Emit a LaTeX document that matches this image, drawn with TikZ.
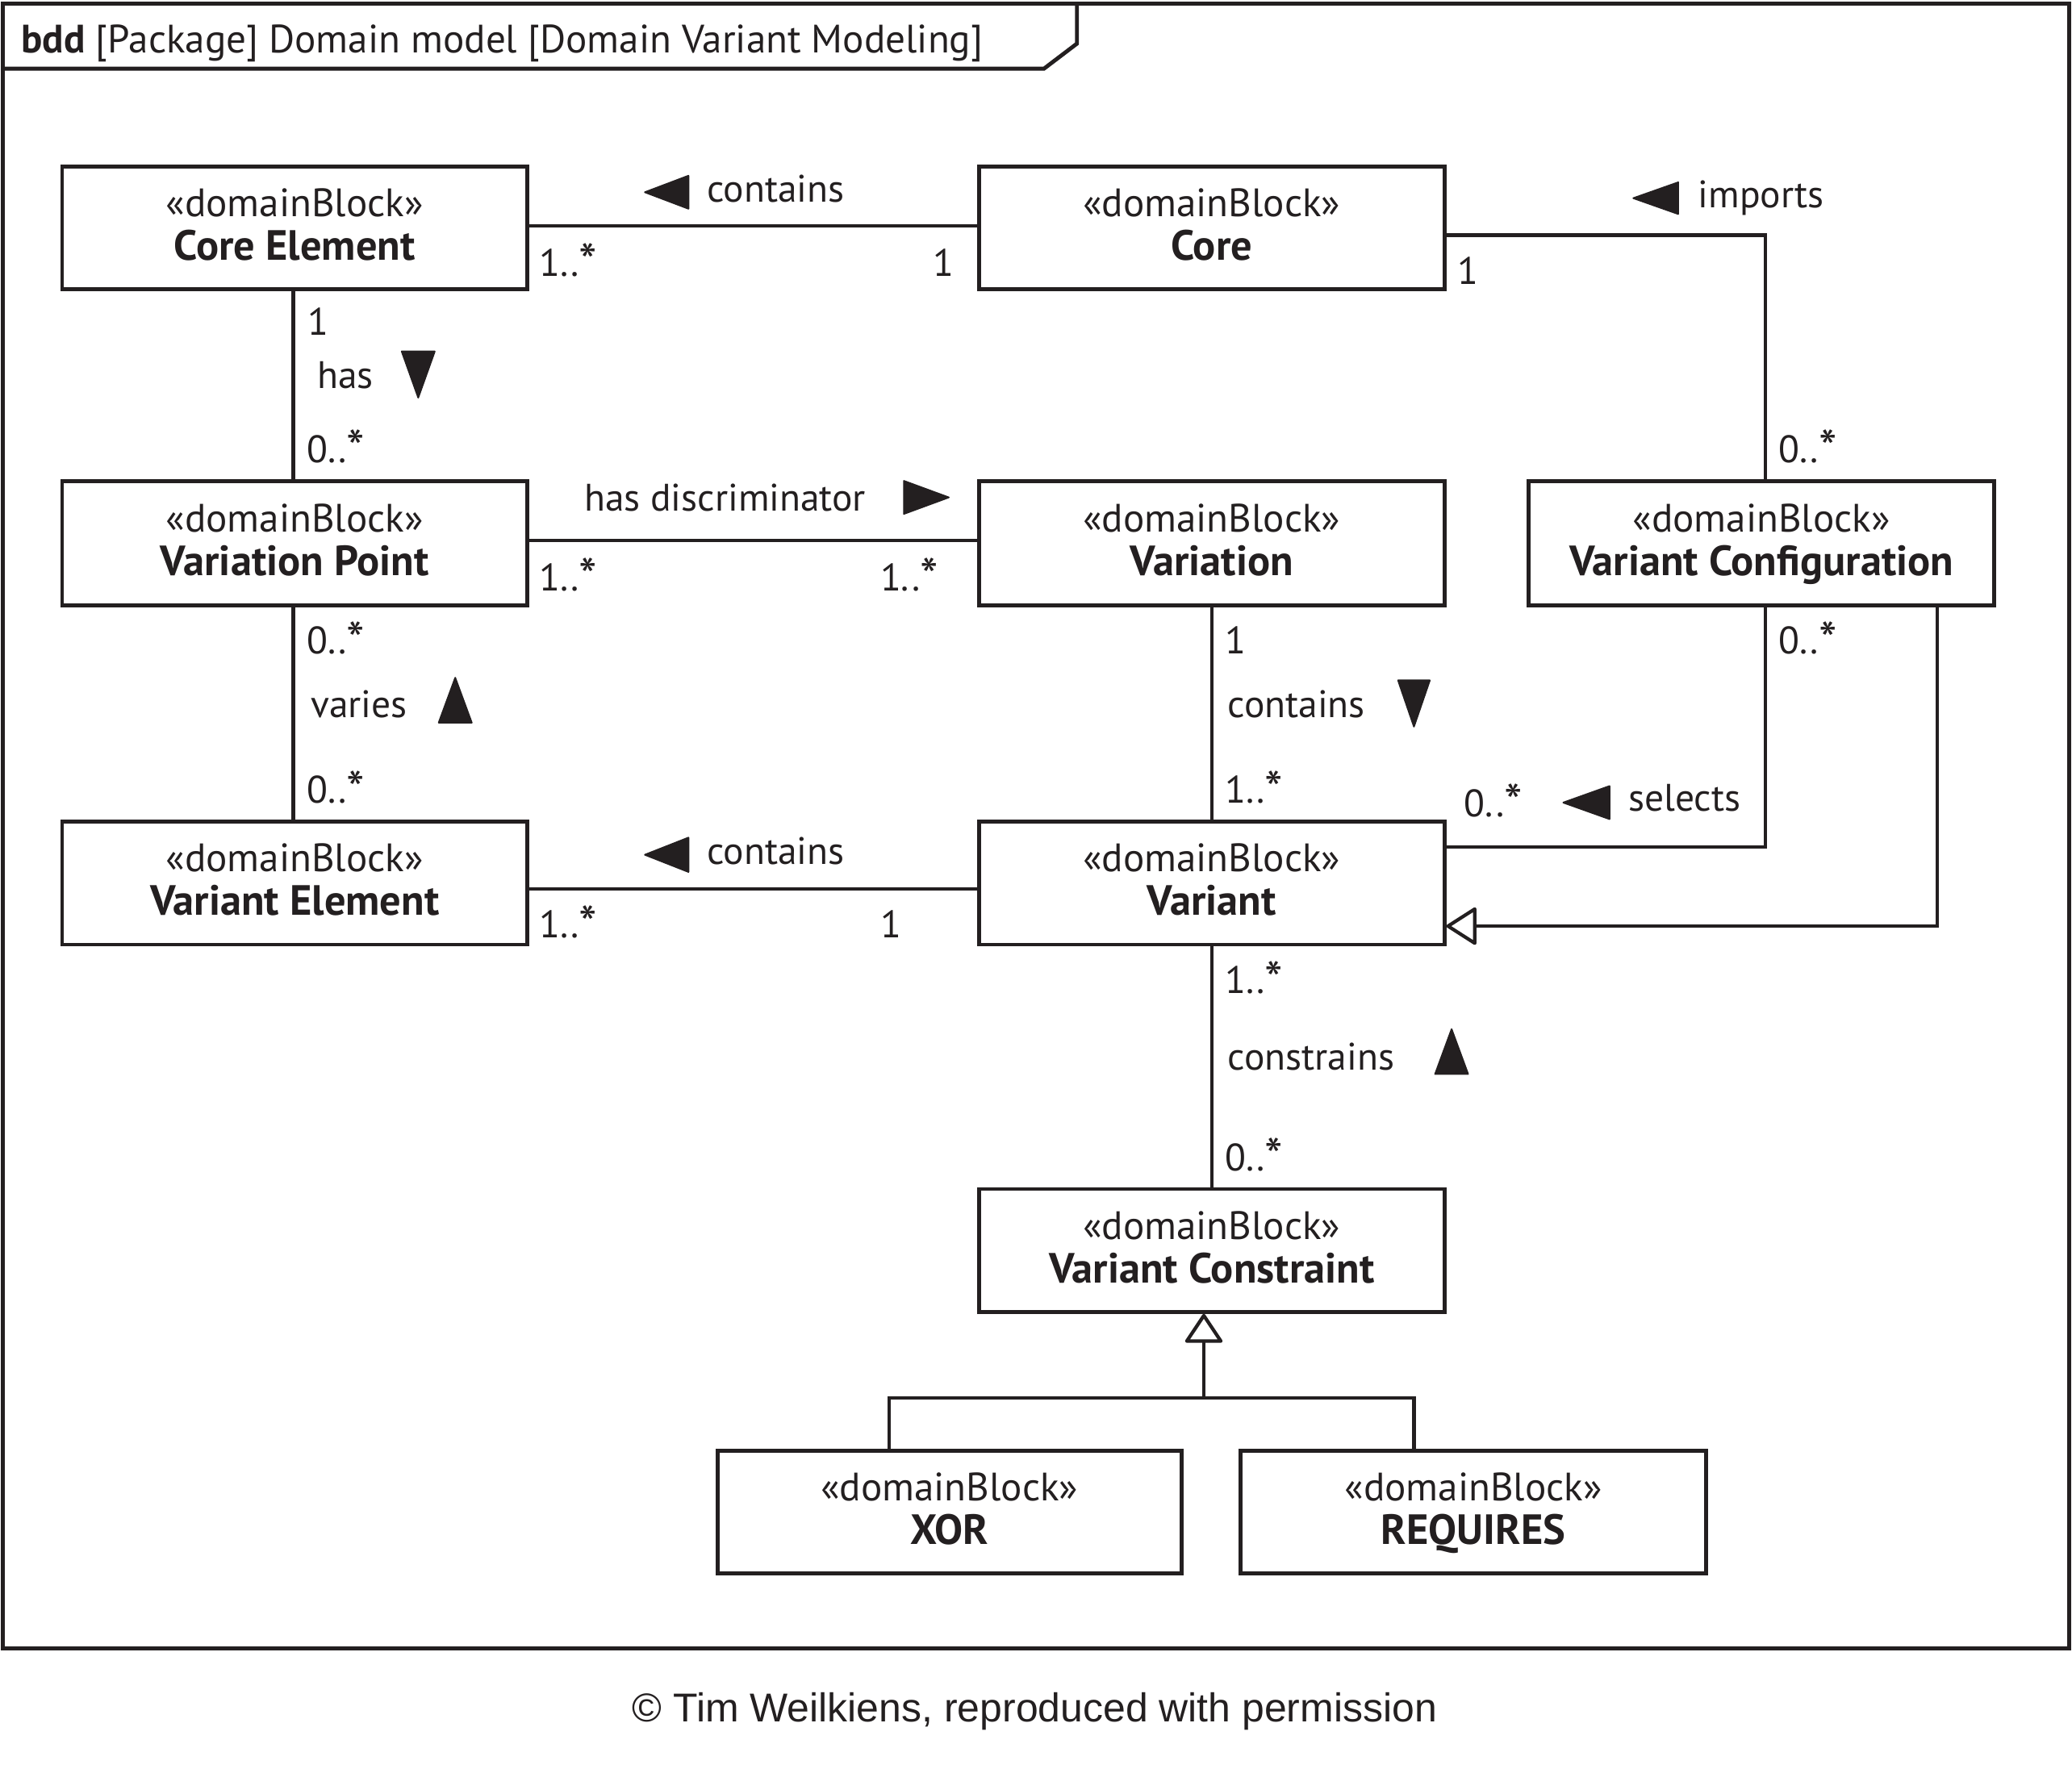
\documentclass[tikz,border=0pt]{standalone}
\usepackage{fontspec}
\usepackage{graphicx}
\setmainfont{PT Sans}
\newfontfamily\arialf{Liberation Sans}
\usetikzlibrary{calc,arrows.meta}
\definecolor{ink}{RGB}{35,31,32}
\newcommand{\mast}{\raisebox{-0.12em}{\scalebox{1.35}{*}}}
\newcommand{\bname}[1]{{\fontsize{32}{33}\selectfont\textbf{#1}}}
\begin{document}
\begin{tikzpicture}[x=1pt,y=-1pt,
  every node/.style={text=ink},
  block/.style={draw=ink, line width=3pt, rectangle, minimum width=352pt, minimum height=93pt,
    inner sep=0pt, align=center, font=\fontsize{30}{33}\selectfont, text height=55pt, text depth=6pt},
  lbl/.style={font=\fontsize{29}{33}\selectfont, inner sep=0pt, anchor=base west},
  conn/.style={draw=ink, line width=2.6pt},
  dirtri/.style={fill=ink, draw=ink, line width=1.2pt, line join=round},
  gen/.style={-{Triangle[open,fill=white,length=#1,width=30pt,line width=2.6pt,round]}}
]
\useasboundingbox (0,0) rectangle (1568,1339);
% frame
\draw[draw=ink, line width=3pt] (2,3) rectangle (1566,1248);
\draw[draw=ink, line width=3pt] (2,52) -- (790,52) -- (815,33) -- (815,3);
\node[anchor=base west, inner sep=0pt, font=\fontsize{30}{33}\selectfont] (title) at (16,40)
  {\textbf{bdd} [Package] Domain model [Domain Variant Modeling]};

% blocks
\node[block] (ce)   at (223,172.5) {«domainBlock»\\\bname{Core Element}};
\node[block] (core) at (917,172.5) {«domainBlock»\\\bname{Core}};
\node[block, minimum height=94pt] (vp)   at (223,411) {«domainBlock»\\\bname{Variation Point}};
\node[block, minimum height=94pt] (var)  at (917,411) {«domainBlock»\\\bname{Variation}};
\node[block, minimum height=94pt] (vc)   at (1333,411) {«domainBlock»\\\bname{Variant Configuration}};
\node[block] (ve)   at (223,668.5) {«domainBlock»\\\bname{Variant Element}};
\node[block] (vnt)  at (917,668.5) {«domainBlock»\\\bname{Variant}};
\node[block] (vcon) at (917,946.5) {«domainBlock»\\\bname{Variant Constraint}};
\node[block, minimum width=351pt] (xor)  at (718.5,1144.5) {«domainBlock»\\\bname{XOR}};
\node[block] (req)  at (1115,1144.5) {«domainBlock»\\\bname{REQUIRES}};

% connectors
\draw[conn] ([yshift=1.5pt]ce.east) -- ([yshift=1.5pt]core.west);
\draw[conn] ([yshift=-5.5pt]core.east) -| ([xshift=3pt]vc.north);
\draw[conn] ([xshift=-1pt]ce.south) -- ([xshift=-1pt]vp.north);
\draw[conn] ([yshift=2pt]vp.east) -- ([yshift=2pt]var.west);
\draw[conn] ([xshift=-1pt]vp.south) -- ([xshift=-1pt]ve.north);
\draw[conn] ([yshift=-4.5pt]ve.east) -- ([yshift=-4.5pt]vnt.west);
\draw[conn] (var.south) -- (vnt.north);
\draw[conn] ([xshift=3pt]vc.south) |- ([yshift=27.5pt]vnt.east);
\draw[conn, gen=24pt] ([xshift=133pt]vc.south) |- ([yshift=-32.5pt]vnt.east);
\draw[conn] (vnt.south) -- (vcon.north);
\coordinate (gj) at (911,1058);
\draw[conn, gen=23pt] (gj) -- ([xshift=-6pt]vcon.south);
\draw[conn] ([xshift=-45.5pt]xor.north) |- (gj) -| ([xshift=-45pt]req.north);

% direction triangles
\fill[dirtri] (488,145.5) -- (521,133) -- (521,158) -- cycle;
\fill[dirtri] (1236,150) -- (1270,138) -- (1270,162) -- cycle;
\fill[dirtri] (304,266) -- (329,266) -- (316.5,301) -- cycle;
\fill[dirtri] (684,364) -- (718,376.5) -- (684,389) -- cycle;
\fill[dirtri] (344.5,513) -- (357,547) -- (332,547) -- cycle;
\fill[dirtri] (488,647) -- (521,634) -- (521,660) -- cycle;
\fill[dirtri] (1058,515) -- (1082,515) -- (1070,550) -- cycle;
\fill[dirtri] (1183,607.5) -- (1218,595) -- (1218,620) -- cycle;
\fill[dirtri] (1098.5,779) -- (1111,813) -- (1086,813) -- cycle;

% labels
\node[lbl] (l1) at (535,153) {contains};
\node[lbl] (m1) at (408,209) {1..\mast};
\node[lbl] (m2) at (706,209) {1};
\node[lbl] (l2) at (1285,157) {imports};
\node[lbl] (m3) at (1103,215) {1};
\node[lbl] (m4) at (1346,350) {0..\mast};
\node[lbl] (m5) at (233,254) {1};
\node[lbl] (l3) at (240,294) {has};
\node[lbl] (m6) at (232,350) {0..\mast};
\node[lbl] (l4) at (442,387) {has discriminator};
\node[lbl] (m7) at (408,447) {1..\mast};
\node[lbl] (m8) at (666,447) {1..\mast};
\node[lbl] (m9) at (232,495) {0..\mast};
\node[lbl] (l5) at (235,543) {varies};
\node[lbl] (m10) at (232,608) {0..\mast};
\node[lbl] (l6) at (535,654) {contains};
\node[lbl] (m11) at (408,710) {1..\mast};
\node[lbl] (m12) at (666,710) {1};
\node[lbl] (m13) at (927,495) {1};
\node[lbl] (l7) at (929,543) {contains};
\node[lbl] (m14) at (927,608) {1..\mast};
\node[lbl] (m15) at (1346,495) {0..\mast};
\node[lbl] (m16) at (1108,618) {0..\mast};
\node[lbl] (l8) at (1232,614) {selects};
\node[lbl] (m17) at (927,752) {1..\mast};
\node[lbl] (l9) at (929,810) {constrains};
\node[lbl] (m18) at (927,886) {0..\mast};

\node[anchor=base, inner sep=0pt, font=\arialf\fontsize{30.5}{33}\selectfont] (copy) at (783,1303)
  {© Tim Weilkiens, reproduced with permission};
\end{tikzpicture}
\end{document}
